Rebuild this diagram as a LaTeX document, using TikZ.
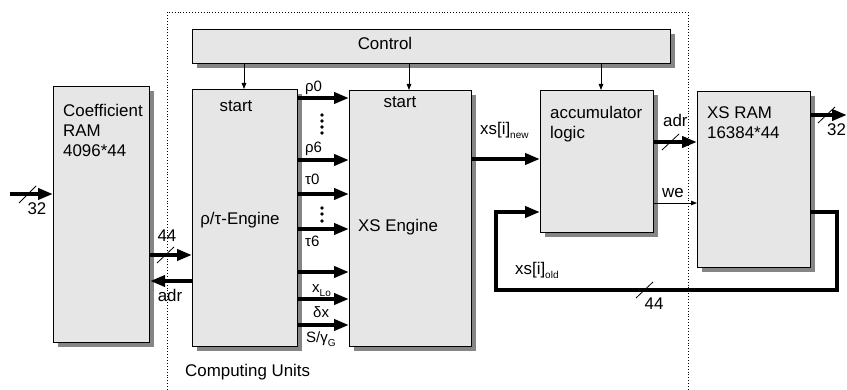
\documentclass[tikz,border=0pt]{standalone}
\usepackage{fontspec}
\setmainfont{Liberation Sans}
\usetikzlibrary{arrows.meta,shadows,calc}
\definecolor{boxgray}{HTML}{E6E6E6}
\definecolor{shadowgray}{HTML}{858585}
\newcommand\mysub[1]{\raisebox{-3.5pt}{\fontsize{10}{12}\selectfont #1}}
\begin{document}
\begin{tikzpicture}[x=1pt,y=-1pt,
  box/.style={draw=black, line width=1.1pt, fill=boxgray, inner sep=0pt, anchor=north west,
    drop shadow={shadow xshift=4pt, shadow yshift=-4pt, fill=shadowgray, opacity=1}},
  txt/.style={font=\fontsize{16.9}{20}\selectfont, inner sep=0pt},
  gtxt/.style={font=\fontsize{15}{18}\selectfont, inner sep=0pt, anchor=base west},
  bigarrow/.style={line width=4pt, -{Triangle[length=15pt,width=11pt]}},
  thinarrow/.style={line width=0.8pt, -{Triangle[length=6pt,width=4.5pt]}},
  slash/.style={line width=0.8pt},
  dotmark/.style={circle, fill=black, inner sep=0pt, minimum size=3.6pt}]
\useasboundingbox (0,0) rectangle (847,390);

% computing units frame
\draw[dotted, line width=0.9pt] (167,390) -- (167,12) -- (688,12) -- (688,390);
\node[txt, anchor=base west] (cu) at (185,377) {Computing Units};

% boxes
\node[box, minimum width=478pt, minimum height=34pt] (ctrl) at (192,29) {};
\node[txt, anchor=base] (ctrlt) at (385,50) {Control};
\node[box, minimum width=96pt, minimum height=256pt] (coef) at (53,86) {};
\node[txt, anchor=north west, align=left] (coeft) at (63,104) {Coefficient\\RAM\\4096*44};
\node[box, minimum width=105pt, minimum height=257pt] (rt) at (192,89) {};
\node[txt, anchor=base] (rtstart) at (236,112) {start};
\node[txt, anchor=base] (rtname) at (240,225) {ρ/τ-Engine};
\node[box, minimum width=122pt, minimum height=256pt] (xs) at (349,90) {};
\node[txt, anchor=base] (xsstart) at (400,108) {start};
\node[txt, anchor=base] (xsname) at (398,232) {XS Engine};
\node[box, minimum width=113pt, minimum height=142pt] (acc) at (540,90) {};
\node[txt, anchor=north west, align=left] (acct) at (550,106) {accumulator\\logic};
\node[box, minimum width=113pt, minimum height=176pt] (ram) at (697,91) {};
\node[txt, anchor=north west, align=left] (ramt) at (707,107) {XS RAM\\16384*44};

% helper coordinates
\coordinate (cx1) at (244,0);
\coordinate (cx2) at (409,0);
\coordinate (cx3) at (601,0);
\coordinate (in32) at (10,194);
\coordinate (out32) at (847,115);
\foreach \n/\y in {r0/98, r6/160, t0/194, t6/229, blank/272, xlo/299, dx/325}
  \coordinate (y\n) at (0,\y);
\coordinate (y44) at (0,255);
\coordinate (yadr) at (0,281);
\coordinate (ynew) at (0,159);
\coordinate (yradr) at (0,142);
\coordinate (ywe) at (0,203);
\coordinate (yold) at (0,212);
\coordinate (fbr) at (837,212);
\coordinate (fbbr) at (837,290);
\coordinate (fbbl) at (496,290);
\coordinate (fbl) at (496,212);

% control arrows
\draw[thinarrow] (ctrl.south -| cx1) -- (rt.north -| cx1);
\draw[thinarrow] (ctrl.south -| cx2) -- (xs.north -| cx2);
\draw[thinarrow] (ctrl.south -| cx3) -- (acc.north -| cx3);

% coefficient RAM
\draw[bigarrow] (in32) -- (coef.west |- in32);
\draw[slash] (19,203) -- (36,186);
\node[txt, anchor=base] (l32a) at (37,215) {32};
\draw[bigarrow] (coef.east |- y44) -- (rt.west |- y44);
\draw[slash] (157,263) -- (174,247);
\node[txt, anchor=base] (l44a) at (167,242) {44};
\draw[bigarrow] (rt.west |- yadr) -- (coef.east |- yadr);
\node[txt, anchor=base] (ladra) at (170,302) {adr};

% rho/tau engine outputs
\foreach \n in {r0, r6, t0, t6, blank, xlo, dx}
  \draw[bigarrow] (rt.east |- y\n) -- (xs.west |- y\n);
\node[gtxt] (lr0) at (305,92) {ρ0};
\node[gtxt] (lr6) at (305,153) {ρ6};
\node[gtxt] (lt0) at (305,185) {τ0};
\node[gtxt] (lt6) at (305,247) {τ6};
\node[gtxt] (lxlo) at (312,293) {x\mysub{Lo}};
\node[gtxt] (ldx) at (313,318) {δx};
\node[gtxt] (lsg) at (306,343) {S/γ\mysub{G}};
\foreach \y [count=\i] in {115,121,127,133}
  \node[dotmark] (da\i) at (322,\y) {};
\foreach \y [count=\i] in {208,214,221}
  \node[dotmark] (db\i) at (322,\y) {};

% XS engine to accumulator
\draw[bigarrow] (xs.east |- ynew) -- (acc.west |- ynew);
\node[txt, anchor=base west] (lnew) at (480,135) {xs[i]\mysub{new}};

% accumulator to RAM
\draw[bigarrow] (acc.east |- yradr) -- (ram.west |- yradr);
\draw[slash] (662,150) -- (679,134);
\node[txt, anchor=base west] (ladrb) at (663,127) {adr};
\draw[thinarrow] (acc.east |- ywe) -- (ram.west |- ywe);
\node[txt, anchor=base west] (lwe) at (662,198) {we};

% RAM output
\draw[bigarrow] (ram.east |- out32) -- (out32);
\draw[slash] (818,123) -- (835,107);
\node[txt, anchor=base west] (l32b) at (827,136) {32};

% feedback
\draw[line width=4pt, line join=miter, -{Triangle[length=15pt,width=11pt]}]
  (ram.east |- yold) -- (fbr) -- (fbbr) -- (fbbl) -- (fbl) -- (acc.west |- yold);
\draw[slash] (636,298) -- (653,282);
\node[txt, anchor=base] (l44b) at (654,310) {44};
\node[txt, anchor=base west] (lold) at (515,275) {xs[i]\mysub{old}};
\end{tikzpicture}
\end{document}
